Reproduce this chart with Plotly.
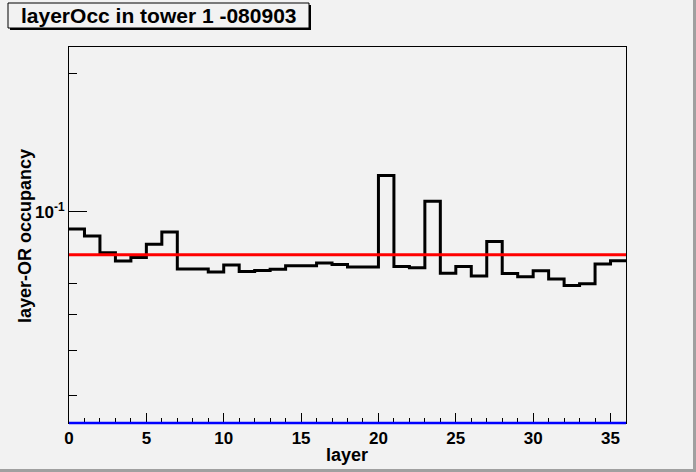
import plotly.graph_objects as go

# layer-OR occupancy per layer, tower 1, run 080903
layers = list(range(36))
occupancy = [
    0.0918, 0.0886, 0.0815, 0.0782, 0.0796, 0.0851, 0.0904, 0.0752, 0.0752,
    0.0740, 0.0767, 0.0742, 0.0746, 0.0751, 0.0764, 0.0764, 0.0774, 0.0769,
    0.0759, 0.0759, 0.1199, 0.0761, 0.0756, 0.1055, 0.0736, 0.0761, 0.0726,
    0.0862, 0.0735, 0.0723, 0.0745, 0.0715, 0.0692, 0.0698, 0.0771, 0.0783,
]
mean_occ = 0.0807
y_lo, y_hi = 0.0348, 0.228
y_minor = [0.04, 0.05, 0.06, 0.07, 0.2]
x_major = [0, 5, 10, 15, 20, 25, 30, 35]

W, H = 696, 472
L, R, T, B = 69, 70, 47, 49
pw, ph = W - L - R, H - T - B
bg = "#f2f2f2"
font = "Liberation Sans, Arial, sans-serif"


def px(x):
    return (x - L) / pw


def py(y):
    return (H - B - y) / ph


# histogram drawn as steps over bin edges
edges = layers + [layers[-1] + 1]
steps = occupancy + [occupancy[-1]]

fig = go.Figure()
fig.add_trace(go.Scatter(x=edges, y=steps, mode="lines", line_shape="hv",
                         line=dict(color="black", width=3), hoverinfo="skip"))
fig.add_trace(go.Scatter(x=[edges[0], edges[-1]], y=[mean_occ, mean_occ], mode="lines",
                         line=dict(color="#ff0000", width=3), hoverinfo="skip"))

shapes = [
    # blue line along the bottom of the frame
    dict(type="line", xref="x", yref="y domain", x0=edges[0], x1=edges[-1], y0=0, y1=0,
         line=dict(color="#0000ff", width=2.5)),
    # canvas border shadow
    dict(type="line", xref="paper", yref="paper", x0=px(0), x1=px(W), y0=py(H - 1.5), y1=py(H - 1.5),
         line=dict(color="#a0a0a0", width=3)),
    dict(type="line", xref="paper", yref="paper", x0=px(W - 1.5), x1=px(W - 1.5), y0=py(0), y1=py(H),
         line=dict(color="#a0a0a0", width=3)),
    # title box with shadow
    dict(type="rect", xref="paper", yref="paper", x0=px(10), x1=px(311), y0=py(5), y1=py(30),
         fillcolor="black", line=dict(width=0), layer="above"),
    dict(type="rect", xref="paper", yref="paper", x0=px(8), x1=px(309), y0=py(3), y1=py(28),
         fillcolor=bg, line=dict(color="black", width=1), layer="above"),
]

annotations = [
    dict(text="<b>layerOcc in tower 1 -080903</b>", xref="paper", yref="paper",
         x=px(19), y=py(15.5), xanchor="left", yanchor="middle", showarrow=False,
         font=dict(family=font, size=21, color="black")),
    dict(text="<b>layer</b>", xref="paper", yref="paper", x=px(347), y=py(455),
         xanchor="center", yanchor="middle", showarrow=False,
         font=dict(family=font, size=18, color="black")),
    dict(text="<b>layer-OR occupancy</b>", xref="paper", yref="paper", x=px(25), y=py(236),
         xanchor="center", yanchor="middle", textangle=-90, showarrow=False,
         font=dict(family=font, size=18, color="black")),
]

fig.update_layout(
    width=W, height=H, autosize=False,
    margin=dict(l=L, r=R, t=T, b=B, pad=0),
    paper_bgcolor=bg, plot_bgcolor=bg,
    showlegend=False,
    shapes=shapes, annotations=annotations,
    font=dict(family=font, color="black"),
    xaxis=dict(range=[edges[0], edges[-1]], showgrid=False, zeroline=False,
               showline=True, linecolor="black", linewidth=1, mirror=True,
               ticks="inside", tickmode="array", tickvals=x_major,
               ticktext=["<b>%d</b>" % v for v in x_major],
               ticklen=10, tickwidth=1, tickcolor="black",
               tickfont=dict(family=font, size=17),
               minor=dict(tickmode="array", tickvals=edges, ticks="inside",
                          ticklen=5, tickwidth=1, tickcolor="black")),
    yaxis=dict(type="log", range=[-1.4584, -0.642], showgrid=False, zeroline=False,
               showline=True, linecolor="black", linewidth=1, mirror=True,
               ticks="inside", tickmode="array", tickvals=[0.1],
               ticktext=["<b>10<sup>-1</sup></b>"],
               ticklen=18, tickwidth=1, tickcolor="black",
               tickfont=dict(family=font, size=17),
               minor=dict(tickmode="array", tickvals=y_minor, ticks="inside",
                          ticklen=8, tickwidth=1, tickcolor="black")),
)

# page body has a default 8px margin; drop it so the canvas fills the window
fig.write_html("out.html", config={"displayModeBar": False},
               post_script="document.body.style.margin='0';")
